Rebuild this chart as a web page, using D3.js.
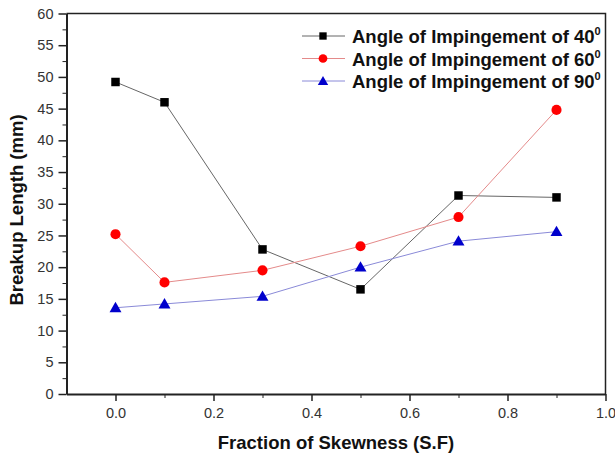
<!DOCTYPE html>
<html lang="en">
  <head>
    <meta charset="UTF-8" />
    <title>Breakup Length</title>
    <style>
      body { margin: 0; background: #fff; }
      svg { display: block; font-family: "Liberation Sans", Arial, sans-serif; }
      .axis { font-family: "Liberation Sans", Arial, sans-serif; }
      .tick text { font-size: 14.5px; fill: #333; }
      .axis path, .axis line { stroke: #222; }
    </style>
  </head>
  <body>
    <svg width="615" height="454"></svg>
    <script src="https://d3js.org/d3.v7.min.js"></script>
    <script>
      // data
      const skew = [0.0, 0.1, 0.3, 0.5, 0.7, 0.9];
      const angle40 = [49.2, 46.0, 22.8, 16.5, 31.3, 31.0];
      const angle60 = [25.2, 17.6, 19.5, 23.3, 27.9, 44.8];
      const angle90 = [13.6, 14.2, 15.4, 20.0, 24.1, 25.6];
      const seriesNames = ["40", "60", "90"];
      const xTicks = [0.0, 0.2, 0.4, 0.6, 0.8, 1.0];
      const yTicks = [0, 5, 10, 15, 20, 25, 30, 35, 40, 45, 50, 55, 60];

      const plotLeft = 66.5, plotRight = 605.5, plotTop = 13.5, plotBottom = 394;

      const svg = d3.select("svg");

      const x = d3.scaleLinear().domain([-0.1, 1.0]).range([plotLeft, plotRight]);
      const y = d3.scaleLinear().domain([0, 60]).range([plotBottom, plotTop]);

      // frame top + right
      svg.append("path")
        .attr("d", `M${plotLeft},${plotTop}H${plotRight}V${plotBottom}`)
        .attr("fill", "none")
        .attr("stroke", "#222")
        .attr("stroke-width", 1.5);

      // minor ticks
      svg.append("g")
        .attr("class", "axis")
        .attr("transform", `translate(0,${plotBottom})`)
        .call(d3.axisBottom(x).tickValues([0.1, 0.3, 0.5, 0.7, 0.9]).tickSize(4).tickFormat(""))
        .call((g) => g.select(".domain").remove());
      svg.append("g")
        .attr("class", "axis")
        .attr("transform", `translate(${plotLeft},0)`)
        .call(d3.axisLeft(y).tickValues(d3.range(2.5, 60, 5)).tickSize(4).tickFormat(""))
        .call((g) => g.select(".domain").remove());

      // major axes
      svg.append("g")
        .attr("class", "axis")
        .attr("transform", `translate(0,${plotBottom})`)
        .call(d3.axisBottom(x).tickValues(xTicks).tickSize(7).tickSizeOuter(0).tickPadding(7).tickFormat(d3.format(".1f")))
        .call((g) => g.attr("font-family", null).attr("font-size", null))
        .call((g) => g.select(".domain").attr("stroke-width", 2))
        .call((g) => g.selectAll(".tick line").attr("stroke-width", 1.5));
      svg.append("g")
        .attr("class", "axis")
        .attr("transform", `translate(${plotLeft},0)`)
        .call(d3.axisLeft(y).tickValues(yTicks).tickSize(8).tickSizeOuter(0).tickPadding(5))
        .call((g) => g.attr("font-family", null).attr("font-size", null))
        .call((g) => g.select(".domain").attr("stroke-width", 2))
        .call((g) => g.selectAll(".tick line").attr("stroke-width", 1.5));

      // axis titles
      svg.append("text")
        .attr("x", 336)
        .attr("y", 449)
        .attr("text-anchor", "middle")
        .attr("font-size", 18.5)
        .attr("font-weight", "bold")
        .attr("fill", "#111")
        .text("Fraction of Skewness (S.F)");
      svg.append("text")
        .attr("transform", "translate(23,210) rotate(-90)")
        .attr("text-anchor", "middle")
        .attr("font-size", 18.5)
        .attr("font-weight", "bold")
        .attr("fill", "#111")
        .text("Breakup Length (mm)");

      const series = [
        { name: seriesNames[0], values: angle40, line: "#666", fill: "#000", shape: d3.symbolSquare, size: 72 },
        { name: seriesNames[1], values: angle60, line: "#e48a8a", fill: "#f00", shape: d3.symbolCircle, size: 80 },
        { name: seriesNames[2], values: angle90, line: "#8a8ad8", fill: "#00c", shape: d3.symbolTriangle, size: 62 },
      ];

      const line = d3.line().x((d) => x(d[0])).y((d) => y(d[1]));

      series.forEach((s) => {
        const pts = skew.map((v, i) => [v, s.values[i]]);
        svg.append("path")
          .datum(pts)
          .attr("d", line)
          .attr("fill", "none")
          .attr("stroke", s.line)
          .attr("stroke-width", 1);
        svg.selectAll(null)
          .data(pts)
          .enter()
          .append("path")
          .attr("d", d3.symbol().type(s.shape).size(s.size))
          .attr("transform", (d) => `translate(${x(d[0])},${y(d[1]) + (s.shape === d3.symbolTriangle ? 1 : 0)})`)
          .attr("fill", s.fill);
      });

      // legend
      series.forEach((s, i) => {
        const ly = 36 + i * 22.5;
        svg.append("line")
          .attr("x1", 302).attr("x2", 345)
          .attr("y1", ly).attr("y2", ly)
          .attr("stroke", s.line);
        svg.append("path")
          .attr("d", d3.symbol().type(s.shape).size(s.size * 0.75))
          .attr("transform", `translate(323,${ly + (s.shape === d3.symbolTriangle ? 1 : 0)})`)
          .attr("fill", s.fill);
        const t = svg.append("text")
          .attr("x", 352)
          .attr("y", ly + 7)
          .attr("font-size", 18.5)
          .attr("font-weight", "bold")
          .attr("fill", "#111")
          .text(`Angle of Impingement of ${s.name}`);
        t.append("tspan")
          .attr("dy", -8)
          .attr("font-size", 11)
          .text("0");
      });
    </script>
  </body>
</html>
